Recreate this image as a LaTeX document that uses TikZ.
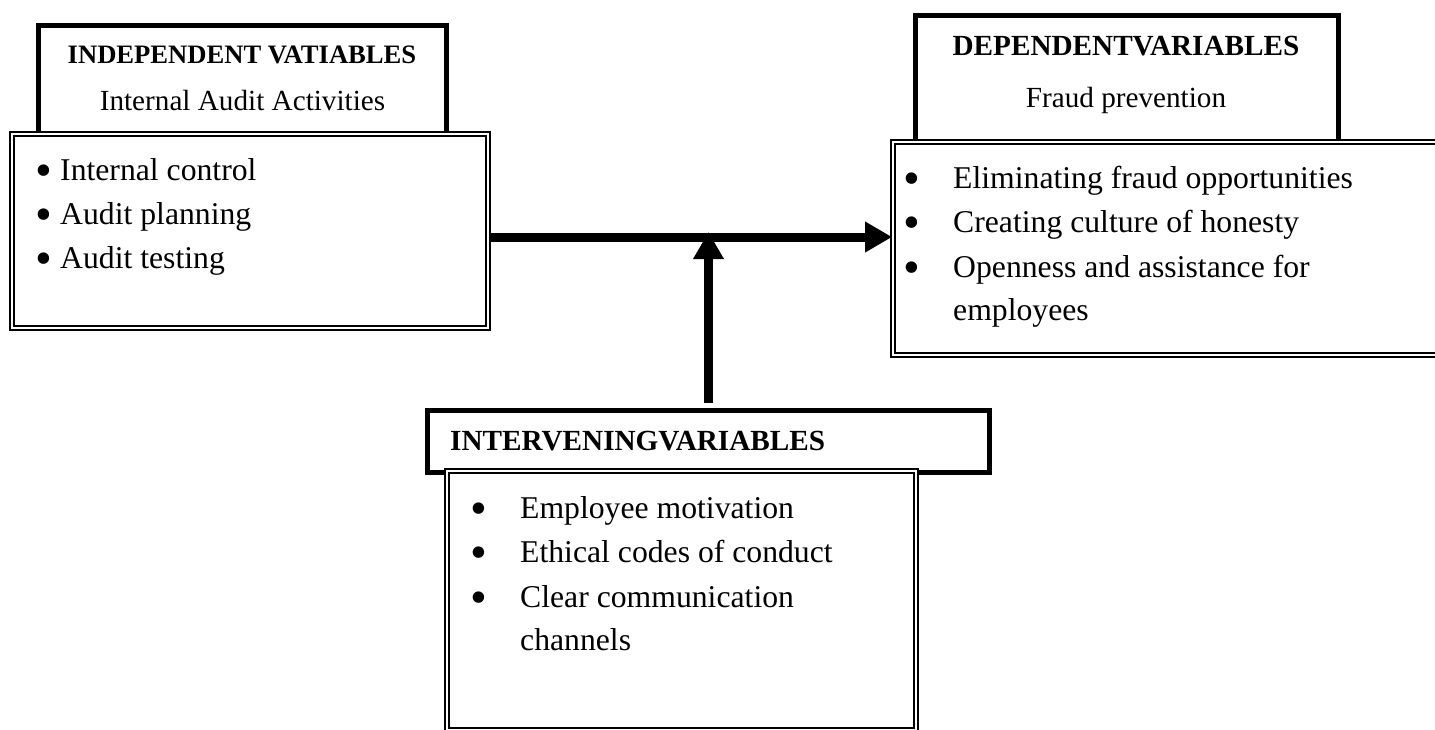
\documentclass[tikz,border=0pt]{standalone}
\usepackage{fontspec}
\setmainfont{Liberation Serif}
\usetikzlibrary{arrows.meta}
\begin{document}
\begin{tikzpicture}[x=1pt,y=-1pt,
  hbox/.style={draw, line width=5pt, fill=white, inner sep=0pt},
  lbox/.style={draw, double=white, line width=1.8pt, double distance=2.4pt, fill=white, inner sep=0pt},
  hdsmall/.style={font=\fontsize{26.6}{30}\selectfont\bfseries, inner sep=0pt},
  hd/.style={font=\fontsize{29.2}{32}\selectfont\bfseries, inner sep=0pt},
  sub/.style={font=\fontsize{29.2}{32}\selectfont, inner sep=0pt},
  item/.style={font=\fontsize{31.7}{36}\selectfont, inner sep=0pt, anchor=base west},
  dot/.style={font=\fontsize{48}{48}\selectfont, inner sep=0pt, anchor=center},
  flow/.style={line width=9pt, -{Triangle[length=27pt,width=29pt]}}
]
\clip (0,0) rectangle (1435,729);
\fill[white] (0,0) rectangle (1435,729);
% boxes
\node[hbox, minimum width=408pt, minimum height=108.5pt] (lh) at (242.5,79.75) {};
\node[lbox, minimum width=476pt, minimum height=194pt] (ll) at (250,231) {};
\node[hbox, minimum width=423pt, minimum height=126.5pt] (rh) at (1126.5,78.75) {};
\node[lbox, minimum width=567pt, minimum height=213pt] (rl) at (1176.5,248.5) {};
\node[hbox, minimum width=562pt, minimum height=62.5pt] (ih) at (708.5,441.25) {};
\node[lbox, minimum width=469pt, minimum height=259pt] (il) at (681.5,600.5) {};
% left texts
\node[hdsmall, anchor=base] (lht) at (242,63) {INDEPENDENT VATIABLES};
\node[sub, anchor=base] (lhs) at (242.5,110) {Internal Audit Activities};
\node[dot] (lb1) at (44,176) {\textbullet};
\node[item] (li1) at (60,180) {Internal control};
\node[dot] (lb2) at (44,220) {\textbullet};
\node[item] (li2) at (60,224) {Audit planning};
\node[dot] (lb3) at (44,264) {\textbullet};
\node[item] (li3) at (60,268) {Audit testing};
% right texts
\node[hd, anchor=base] (rht) at (1126,55) {DEPENDENTVARIABLES};
\node[sub, anchor=base] (rhs) at (1126,107) {Fraud prevention};
\node[dot] (rb1) at (912,184) {\textbullet};
\node[item] (ri1) at (953,188) {Eliminating fraud opportunities};
\node[dot] (rb2) at (912,228) {\textbullet};
\node[item] (ri2) at (953,232) {Creating culture of honesty};
\node[dot] (rb3) at (912,273) {\textbullet};
\node[item] (ri3) at (953,277) {Openness and assistance for};
\node[item] (ri4) at (953,320) {employees};
% intervening texts
\node[hd, anchor=base west] (iht) at (450,450) {INTERVENINGVARIABLES};
\node[dot] (ib1) at (478.5,514) {\textbullet};
\node[item] (ii1) at (520,518) {Employee motivation};
\node[dot] (ib2) at (478.5,558) {\textbullet};
\node[item] (ii2) at (520,562) {Ethical codes of conduct};
\node[dot] (ib3) at (478.5,603) {\textbullet};
\node[item] (ii3) at (520,607) {Clear communication};
\node[item] (ii4) at (520,650) {channels};
% arrows
\draw[flow] (ll.east |- 0,237) -- (rl.west |- 0,237);
\draw[flow] ([yshift=5pt]ih.north) -- (ih.north |- 0,232);
\end{tikzpicture}
\end{document}
